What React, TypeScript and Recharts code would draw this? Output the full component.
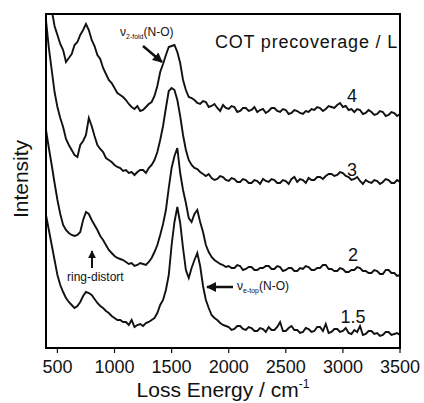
import React from 'react';
import { LineChart, Line, XAxis, YAxis } from 'recharts';

// loss energy grid (cm^-1), 25 cm^-1 steps
const lossEnergy = [
    400, 425, 450, 475, 500, 525, 550, 575,
    600, 625, 650, 675, 700, 725, 750, 775,
    800, 825, 850, 875, 900, 925, 950, 975,
    1000, 1025, 1050, 1075, 1100, 1125, 1150, 1175,
    1200, 1225, 1250, 1275, 1300, 1325, 1350, 1375,
    1400, 1425, 1450, 1475, 1500, 1525, 1550, 1575,
    1600, 1625, 1650, 1675, 1700, 1725, 1750, 1775,
    1800, 1825, 1850, 1875, 1900, 1925, 1950, 1975,
    2000, 2025, 2050, 2075, 2100, 2125, 2150, 2175,
    2200, 2225, 2250, 2275, 2300, 2325, 2350, 2375,
    2400, 2425, 2450, 2475, 2500, 2525, 2550, 2575,
    2600, 2625, 2650, 2675, 2700, 2725, 2750, 2775,
    2800, 2825, 2850, 2875, 2900, 2925, 2950, 2975,
    3000, 3025, 3050, 3075, 3100, 3125, 3150, 3175,
    3200, 3225, 3250, 3275, 3300, 3325, 3350, 3375,
    3400, 3425, 3450, 3475, 3500,
];

// offset intensities, one spectrum per COT precoverage (L)
const cov4 = [
    388, 360, 338, 322, 313, 304, 298, 286,
    290, 294, 303, 306, 313, 318, 324, 318,
    308, 302, 293, 289, 280, 274, 268, 265,
    260, 255, 253, 251, 248, 244, 241, 239,
    242, 237, 238, 241, 244, 246, 252, 262,
    276, 284, 293, 301, 302, 303, 296, 285,
    268, 258, 251, 250, 248, 245, 244, 247,
    246, 241, 242, 244, 240, 237, 243, 240,
    239, 242, 241, 236, 237, 240, 240, 237,
    238, 241, 236, 238, 239, 235, 237, 240,
    240, 237, 236, 239, 238, 234, 235, 238,
    237, 235, 234, 237, 236, 239, 238, 241,
    240, 237, 239, 242, 241, 240, 243, 245,
    241, 242, 238, 239, 236, 239, 238, 234,
    235, 238, 236, 233, 234, 237, 236, 232,
    233, 236, 235, 232, 234,
];
const cov3 = [
    328, 300, 278, 256, 241, 230, 221, 209,
    203, 198, 193, 191, 203, 207, 213, 230,
    222, 212, 203, 199, 196, 190, 188, 186,
    183, 181, 180, 177, 178, 175, 176, 173,
    176, 178, 178, 175, 180, 183, 188, 196,
    208, 222, 240, 257, 260, 258, 248, 232,
    213, 198, 188, 183, 180, 179, 176, 174,
    172, 174, 170, 168, 169, 172, 171, 168,
    167, 170, 169, 166, 166, 169, 168, 165,
    165, 168, 167, 164, 169, 167, 166, 169,
    168, 165, 165, 168, 167, 164, 169, 171,
    166, 169, 168, 165, 170, 168, 168, 171,
    171, 169, 172, 174, 174, 172, 173, 176,
    175, 172, 171, 168, 169, 171, 167, 164,
    168, 166, 165, 168, 167, 164, 166, 169,
    168, 165, 165, 168, 166,
];
const cov2 = [
    218, 200, 183, 165, 148, 134, 123, 118,
    115, 113, 112, 113, 116, 128, 136, 134,
    128, 123, 118, 112, 108, 103, 98, 95,
    92, 90, 89, 88, 86, 84, 85, 82,
    83, 85, 84, 83, 86, 90, 96, 103,
    113, 124, 138, 160, 180, 192, 200, 175,
    158, 145, 130, 126, 134, 138, 126, 116,
    103, 96, 91, 88, 86, 84, 83, 81,
    82, 80, 80, 83, 82, 78, 79, 81,
    81, 78, 78, 80, 80, 82, 82, 79,
    79, 82, 81, 77, 78, 80, 80, 77,
    77, 80, 79, 82, 81, 78, 78, 80,
    80, 83, 83, 79, 79, 77, 77, 80,
    79, 76, 76, 78, 78, 81, 80, 77,
    77, 75, 75, 78, 77, 74, 74, 78,
    78, 75, 75, 72, 73,
];
const cov15 = [
    133, 118, 103, 88, 73, 63, 56, 50,
    46, 43, 40, 42, 46, 52, 56, 55,
    53, 49, 45, 42, 40, 37, 35, 32,
    30, 28, 28, 26, 26, 23, 28, 21,
    23, 24, 22, 25, 26, 28, 30, 35,
    43, 48, 58, 73, 103, 126, 141, 125,
    100, 78, 70, 80, 88, 95, 82, 62,
    48, 40, 33, 30, 28, 25, 23, 22,
    21, 18, 19, 22, 22, 19, 18, 21,
    20, 17, 17, 20, 19, 16, 21, 18,
    18, 21, 26, 17, 17, 20, 22, 18,
    18, 15, 16, 20, 19, 16, 17, 21,
    21, 17, 24, 15, 16, 19, 19, 16,
    17, 20, 15, 14, 18, 16, 22, 13,
    14, 17, 17, 14, 15, 12, 13, 16,
    16, 13, 14, 15, 13,
];

const xTicks = [500, 1000, 1500, 2000, 2500, 3000, 3500];

const data = lossEnergy.map((e, i) => ({
    e,
    c4: cov4[i],
    c3: cov3[i],
    c2: cov2[i],
    c15: cov15[i],
}));

const font = '"Liberation Sans", Arial, sans-serif';
const ink = '#111';

const App: React.FC = () => {
    return (
        <div style={{ position: 'absolute', left: 0, top: 0, width: 424, height: 403, background: '#fff' }}>
            <LineChart width={424} height={403} data={data} margin={{ top: 13, right: 24, left: 46, bottom: 0 }}>
                <XAxis
                    dataKey="e"
                    type="number"
                    domain={[400, 3500]}
                    ticks={xTicks}
                    axisLine={false}
                    tickLine={{ stroke: ink, strokeWidth: 1.2 }}
                    tickSize={5}
                    tickMargin={7}
                    height={55}
                    tick={{ fill: ink, fontSize: 18, fontFamily: font }}
                />
                <YAxis hide domain={[0, 335]} allowDataOverflow width={0} />
                <Line type="linear" dataKey="c4" stroke={ink} strokeWidth={1.9} dot={false} isAnimationActive={false} />
                <Line type="linear" dataKey="c3" stroke={ink} strokeWidth={1.9} dot={false} isAnimationActive={false} />
                <Line type="linear" dataKey="c2" stroke={ink} strokeWidth={1.9} dot={false} isAnimationActive={false} />
                <Line type="linear" dataKey="c15" stroke={ink} strokeWidth={1.9} dot={false} isAnimationActive={false} />
            </LineChart>
            <svg width={424} height={403} style={{ position: 'absolute', left: 0, top: 0, pointerEvents: 'none' }}>
                <defs>
                    <marker id="ah" viewBox="0 0 10 10" refX="9" refY="5" markerWidth="4" markerHeight="4" orient="auto">
                        <path d="M0,0 L10,5 L0,10 z" fill={ink} />
                    </marker>
                </defs>
                {/* plot frame */}
                <g stroke="#000" strokeWidth={2} strokeLinecap="square">
                    <line x1={46} y1={14} x2={400} y2={14} />
                    <line x1={400} y1={14} x2={400} y2={348} />
                    <line x1={46} y1={348} x2={400} y2={348} />
                    <line x1={46} y1={14} x2={46} y2={348} />
                </g>
                <g fontFamily={font} fill={ink}>
                    <text x={215} y={48} fontSize={18} letterSpacing={0.8}>COT precoverage / L</text>
                    <text x={352} y={102} fontSize={18} textAnchor="middle">4</text>
                    <text x={352} y={176} fontSize={18} textAnchor="middle">3</text>
                    <text x={353} y={261} fontSize={18} textAnchor="middle">2</text>
                    <text x={353} y={323} fontSize={18} textAnchor="middle">1.5</text>

                    <text x={120} y={36} fontSize={12}>
                        ν<tspan fontSize={7} dy={3}>2-fold</tspan><tspan fontSize={12} dy={-3}>(N-O)</tspan>
                    </text>
                    <text x={67} y={281} fontSize={12}>ring-distort</text>
                    <text x={237} y={290} fontSize={12}>
                        ν<tspan fontSize={7} dy={3}>e-top</tspan><tspan fontSize={12} dy={-3}>(N-O)</tspan>
                    </text>

                    <text x={223} y={397} fontSize={21} textAnchor="middle">
                        Loss Energy / cm<tspan fontSize={12} dy={-9}>-1</tspan>
                    </text>
                    <text x={0} y={0} fontSize={21} textAnchor="middle" transform="translate(28,179) rotate(-90)">Intensity</text>
                </g>
                <line x1={143} y1={46} x2={162} y2={62} stroke={ink} strokeWidth={2.5} markerEnd="url(#ah)" />
                <line x1={92} y1={268} x2={92} y2={251} stroke={ink} strokeWidth={2} markerEnd="url(#ah)" />
                <line x1={233} y1={287} x2={207} y2={287} stroke={ink} strokeWidth={2.5} markerEnd="url(#ah)" />
            </svg>
        </div>
    );
};

export default App;
